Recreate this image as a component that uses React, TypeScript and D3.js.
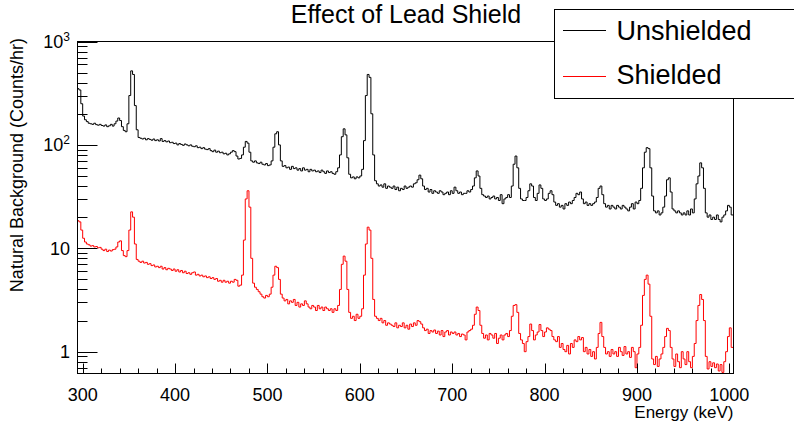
import React, { useEffect, useRef } from 'react'
import * as d3 from 'd3'

// histogram binning (keV)
const binLow = 294
const binWidth = 2

const unshielded = [
    350, 340, 250, 190, 175, 168, 162, 160, 158, 162,
    157, 155, 158, 154, 152, 156, 150, 153, 158, 152,
    160, 170, 182, 172, 150, 138, 134, 160, 300, 520,
    480, 240, 140, 118, 116, 114, 116, 112, 115, 113,
    111, 114, 110, 112, 109, 115, 108, 110, 107, 109,
    105, 106, 103, 104, 100, 103, 101, 99, 102, 100,
    98, 100, 97, 96, 98, 94, 95, 92, 94, 91,
    90, 92, 88, 86, 89, 85, 87, 84, 85, 82,
    83, 80, 82, 85, 88, 86, 78, 73, 74, 80,
    95, 108, 104, 85, 70, 68, 70, 67, 66, 68,
    65, 64, 66, 63, 64, 70, 95, 128, 134, 100,
    70, 62, 63, 60, 61, 58, 62, 59, 60, 57,
    59, 56, 60, 57, 58, 55, 58, 56, 57, 55,
    56, 54, 57, 55, 53, 56, 54, 55, 53, 52,
    55, 60, 80, 120, 143, 125, 75, 52, 48, 49,
    47, 49, 48, 50, 58, 110, 300, 480, 450, 200,
    80, 45, 42, 40, 41, 39, 42, 38, 40, 39,
    38, 40, 37, 39, 36, 38, 37, 40, 38, 39,
    40, 39, 42, 43, 46, 51, 47, 40, 37, 38,
    35, 37, 34, 36, 35, 34, 36, 35, 33, 34,
    35, 33, 36, 34, 39, 36, 34, 35, 33, 34,
    34, 36, 35, 37, 40, 48, 56, 50, 38, 33,
    32, 31, 32, 30, 31, 32, 30, 31, 29, 33,
    27, 30, 31, 33, 31, 40, 65, 78, 60, 38,
    30, 29, 29, 31, 36, 42, 40, 31, 29, 34,
    41, 38, 30, 29, 30, 34, 36, 33, 28, 26,
    27, 25, 26, 24, 27, 26, 28, 27, 29, 31,
    34, 33, 35, 30, 27, 28, 26, 27, 26, 27,
    28, 31, 38, 40, 33, 27, 25, 26, 24, 26,
    25, 24, 26, 25, 24, 26, 25, 24, 23, 25,
    27, 24, 28, 27, 29, 38, 60, 85, 94, 92,
    60, 32, 23, 22, 23, 21, 22, 25, 32, 46,
    48, 35, 24, 23, 22, 23, 22, 21, 22, 21,
    23, 21, 24, 22, 30, 42, 50, 67, 60, 38,
    22, 20, 21, 19, 20, 19, 21, 19, 18, 20,
    21, 23, 26, 25, 21
]

const shielded = [
    18.5, 18, 15, 12.5, 11.5, 11, 10.8, 10.5, 10.6, 10.3,
    10.4, 10.1, 10.2, 9.8, 9.5, 9.8, 9.3, 9.6, 9.4, 9.7,
    9.8, 10.3, 11.5, 11.8, 9.5, 8.5, 8.3, 9.5, 15, 22.5,
    20, 11, 7.8, 7.5, 7.3, 7.5, 7.2, 7.3, 7.0, 7.1,
    6.8, 6.9, 6.6, 6.7, 6.5, 6.7, 6.3, 6.5, 6.2, 6.4,
    6.3, 6.1, 6.3, 6.0, 6.2, 5.9, 6.1, 5.8, 6.0, 5.7,
    5.8, 5.6, 5.8, 5.9, 5.5, 5.6, 5.4, 5.5, 5.3, 5.4,
    5.2, 5.3, 5.1, 5.2, 5.0, 5.1, 4.8, 4.9, 4.7, 4.9,
    4.7, 4.8, 4.6, 4.8, 4.7, 5.0, 4.9, 4.3, 4.4, 5.5,
    12, 30, 36, 25, 8, 4.6, 4.2, 4.0, 3.8, 3.6,
    3.4, 3.3, 3.5, 3.4, 3.6, 4.2, 5.5, 6.7, 6.5, 5.0,
    3.6, 3.3, 3.1, 3.2, 2.9, 3.1, 3.0, 3.2, 2.8, 3.0,
    2.7, 2.9, 2.8, 3.1, 2.9, 2.7, 2.6, 2.8, 2.7, 2.5,
    2.8, 2.6, 2.7, 2.5, 2.7, 2.6, 2.5, 2.6, 2.4, 2.6,
    2.5, 2.8, 4.0, 7.0, 8.4, 7.5, 4.0, 2.4, 2.1, 2.2,
    2.0, 2.3, 2.1, 2.2, 2.6, 5.5, 11, 16, 15, 8,
    3.2, 2.2, 2.1, 2.0, 2.1, 1.9, 2.0, 1.8, 1.9, 1.85,
    1.8, 1.75, 1.9, 1.7, 1.8, 1.75, 1.9, 1.7, 1.8, 1.65,
    1.85, 1.75, 1.9, 1.8, 2.0, 1.95, 1.85, 1.7, 1.6, 1.65,
    1.5, 1.6, 1.55, 1.62, 1.5, 1.58, 1.45, 1.6, 1.4, 1.55,
    1.6, 1.45, 1.55, 1.5, 1.55, 1.45, 1.5, 1.4, 1.48, 1.45,
    1.3, 1.55, 1.6, 1.65, 1.8, 2.3, 2.7, 2.5, 1.8, 1.5,
    1.35, 1.45, 1.3, 1.5, 1.45, 1.35, 1.5, 1.2, 1.35, 1.45,
    1.3, 1.45, 1.5, 1.4, 1.6, 2.2, 2.8, 2.85, 2.4, 1.5,
    1.3, 1.2, 1.0, 1.25, 1.4, 1.85, 1.6, 1.3, 1.45, 1.55,
    1.83, 1.6, 1.4, 1.55, 1.7, 1.65, 1.6, 1.4, 1.3, 1.25,
    1.4, 1.1, 1.2, 1.05, 1.0, 1.15, 0.95, 1.2, 1.1, 1.3,
    1.25, 1.4, 1.3, 1.37, 1.0, 1.1, 0.95, 1.05, 0.9, 1.0,
    0.85, 1.1, 1.5, 1.92, 1.4, 1.1, 0.95, 1.0, 0.9, 1.05,
    0.95, 1.0, 0.9, 1.1, 1.0, 0.92, 1.12, 0.95, 1.0, 0.88,
    1.1, 1.0, 0.7, 0.95, 1.1, 1.8, 3.5, 5.0, 5.5, 4.5,
    2.2, 0.85, 0.75, 0.9, 0.72, 0.85, 0.95, 1.1, 1.4, 1.68,
    1.6, 1.1, 0.85, 0.72, 0.95, 0.8, 0.7, 1.0, 0.85, 0.75,
    1.0, 0.8, 0.7, 0.9, 1.2, 2.0, 2.8, 3.57, 3.2, 2.0,
    0.9, 0.68, 0.8, 0.72, 0.78, 0.7, 0.76, 0.65, 0.75, 0.63,
    0.8, 1.0, 1.4, 1.7, 1.1
]

const xTicks = [300, 400, 500, 600, 700, 800, 900, 1000]
const yTicks = [1, 10, 100, 1000]
const yTickBase = ['1', '10', '10', '10']
const yTickExp = ['', '', '2', '3']
const seriesNames = ['Unshielded', 'Shielded']
const seriesColors = ['#000000', '#ff0000']

const FONT = '"Liberation Sans", Arial, Helvetica, sans-serif'

function makeChart(el: SVGSVGElement) {
    const svg = d3.select(el)
    svg.selectAll('*').remove()
    svg.style('font-family', FONT)

    const left = 77.5, right = 733.5, top = 41.5, bottom = 373.5

    const x = d3.scaleLinear().domain([294.4, 1004.5]).range([left, right])
    const y = d3.scaleLog().domain([0.615, 1000]).range([bottom, top])

    svg.append('clipPath').attr('id', 'frame-clip')
        .append('rect')
        .attr('x', left).attr('y', top)
        .attr('width', right - left).attr('height', bottom - top)

    // histograms
    const line = d3.line<[number, number]>()
        .x(d => x(d[0]))
        .y(d => y(d[1]))
        .curve(d3.curveStepAfter)

    const series = [unshielded, shielded]
    series.forEach((vals, k) => {
        const pts: [number, number][] = vals.map((v, i) => [binLow + i * binWidth, v])
        pts.push([binLow + vals.length * binWidth, vals[vals.length - 1]])
        svg.append('path')
            .attr('clip-path', 'url(#frame-clip)')
            .attr('d', line(pts))
            .attr('fill', 'none')
            .attr('stroke', seriesColors[k])
            .attr('stroke-width', 1)
    })

    // frame
    svg.append('rect')
        .attr('x', left).attr('y', top)
        .attr('width', right - left).attr('height', bottom - top)
        .attr('fill', 'none')
        .attr('stroke', '#000')

    // x ticks
    const xMinor = d3.range(300, 1001, 20).filter(t => t % 100 !== 0)
    svg.append('g').selectAll('line').data(xMinor).enter().append('line')
        .attr('x1', d => Math.round(x(d)) + 0.5).attr('x2', d => Math.round(x(d)) + 0.5)
        .attr('y1', bottom).attr('y2', bottom - 5)
        .attr('stroke', '#000')
    svg.append('g').selectAll('line').data(xTicks).enter().append('line')
        .attr('x1', d => Math.round(x(d)) + 0.5).attr('x2', d => Math.round(x(d)) + 0.5)
        .attr('y1', bottom).attr('y2', bottom - 10)
        .attr('stroke', '#000')
    svg.append('g').selectAll('text').data(xTicks).enter().append('text')
        .attr('x', d => x(d))
        .attr('y', 401)
        .attr('text-anchor', 'middle')
        .attr('font-size', 18)
        .text(d => d)

    // y ticks
    const yMinor = y.ticks().filter(t => Math.abs(Math.log10(t) - Math.round(Math.log10(t))) > 1e-6)
    svg.append('g').selectAll('line').data(yMinor).enter().append('line')
        .attr('x1', left).attr('x2', left + 10)
        .attr('y1', d => Math.round(y(d)) + 0.5).attr('y2', d => Math.round(y(d)) + 0.5)
        .attr('stroke', '#000')
    svg.append('g').selectAll('line').data(yTicks).enter().append('line')
        .attr('x1', left).attr('x2', left + 20)
        .attr('y1', d => Math.round(y(d)) + 0.5).attr('y2', d => Math.round(y(d)) + 0.5)
        .attr('stroke', '#000')
    const yLab = svg.append('g').selectAll('text').data(yTicks).enter().append('text')
        .attr('x', 70)
        .attr('y', d => y(d) + 6.5)
        .attr('text-anchor', 'end')
        .attr('font-size', 18)
    yLab.append('tspan').text((d, i) => yTickBase[i])
    yLab.append('tspan')
        .attr('font-size', 12)
        .attr('dy', -7)
        .text((d, i) => yTickExp[i])

    // axis titles
    svg.append('text')
        .attr('x', right)
        .attr('y', 418)
        .attr('text-anchor', 'end')
        .attr('font-size', 17)
        .text('Energy (keV)')
    svg.append('text')
        .attr('transform', 'translate(23,38) rotate(-90)')
        .attr('text-anchor', 'end')
        .attr('font-size', 18)
        .text('Natural Background (Counts/hr)')

    // title
    svg.append('text')
        .attr('x', 406)
        .attr('y', 23)
        .attr('text-anchor', 'middle')
        .attr('font-size', 25)
        .text('Effect of Lead Shield')

    // legend
    svg.append('rect')
        .attr('x', 554.5).attr('y', 9.5)
        .attr('width', 260).attr('height', 89)
        .attr('fill', '#fff')
        .attr('stroke', '#000')
    const rows = [30.5, 76.5]
    const baselines = [40, 83.5]
    seriesNames.forEach((name, k) => {
        svg.append('line')
            .attr('x1', 563).attr('x2', 606)
            .attr('y1', rows[k]).attr('y2', rows[k])
            .attr('stroke', seriesColors[k])
        svg.append('text')
            .attr('x', 616.5)
            .attr('y', baselines[k])
            .attr('font-size', 27)
            .text(name)
    })
}

export default function App() {
    const ref = useRef<SVGSVGElement>(null)

    useEffect(() => {
        if (ref.current) makeChart(ref.current)
    }, [])

    return (
        <svg
            ref={ref}
            width={794}
            height={425}
            style={{ position: 'absolute', left: 0, top: 0, display: 'block', background: '#fff' }}
        />
    )
}
